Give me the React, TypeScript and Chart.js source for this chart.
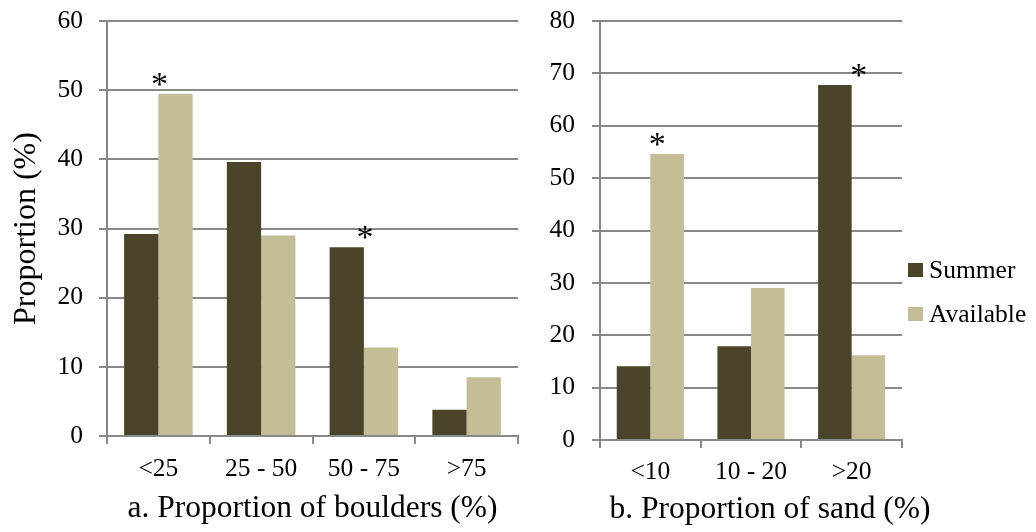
import React, { useEffect, useRef } from "react";
import { Chart, registerables } from "chart.js";

Chart.register(...registerables);

// ---------------- data ----------------
const seriesNames = ["Summer", "Available"];
const seriesColors = ["#4A452A", "#C4BD97"];

const boulderCategories = ["<25", "25 - 50", "50 - 75", ">75"];
const boulderSummer = [29.2, 39.6, 27.3, 3.8];
const boulderAvailable = [49.5, 29.0, 12.8, 8.5];
const boulderStars = [0, 2]; // categories marked with *
const boulderYMax = 60;
const boulderYStep = 10;
const boulderTitle = "a. Proportion of boulders (%)";

const sandCategories = ["<10", "10 - 20", ">20"];
const sandSummer = [14.1, 17.9, 67.8];
const sandAvailable = [54.6, 29.0, 16.2];
const sandStars = [0, 2];
const sandYMax = 80;
const sandYStep = 10;
const sandTitle = "b. Proportion of sand (%)";

const yTitle = "Proportion (%)";

// ---------------- styles ----------------
const FONT = '"Liberation Serif", "Times New Roman", serif';
const GRID = "#898989";
const TICK_SIZE = 25.5;
const TITLE_SIZE = 31.5;

const starPlugin = {
  id: "stars",
  afterDatasetsDraw(chart: any, _a: any, opts: any) {
    const { ctx, scales } = chart;
    const xs = scales.x;
    const ys = scales.y;
    ctx.save();
    ctx.font = `${opts.size}px ${FONT}`;
    ctx.fillStyle = "#000";
    ctx.textAlign = "center";
    ctx.textBaseline = "alphabetic";
    for (const i of opts.indices as number[]) {
      const top = Math.max(...chart.data.datasets.map((d: any) => d.data[i]));
      const cx = xs.getPixelForValue(i) + opts.dx;
      const cy = ys.getPixelForValue(top) - opts.dy;
      ctx.fillText("*", cx, cy + opts.size * 0.47);
    }
    ctx.restore();
  },
};

const sideLegendPlugin = {
  id: "sideLegend",
  afterDraw(chart: any, _a: any, opts: any) {
    if (!opts.show) return;
    const { ctx, chartArea } = chart;
    ctx.save();
    ctx.font = `${TICK_SIZE}px ${FONT}`;
    ctx.textAlign = "left";
    ctx.textBaseline = "alphabetic";
    chart.data.datasets.forEach((ds: any, i: number) => {
      const cy = opts.y + i * opts.gap;
      const bx = chartArea.right + opts.dx;
      ctx.fillStyle = ds.backgroundColor;
      ctx.fillRect(bx, cy - 7, 15, 14);
      ctx.fillStyle = "#000";
      ctx.fillText(ds.label, bx + 21, cy + TICK_SIZE * 0.33);
    });
    ctx.restore();
  },
};

const offsetTitlePlugin = {
  id: "offsetTitle",
  afterDraw(chart: any, _a: any, opts: any) {
    if (!opts.text) return;
    const { ctx, chartArea } = chart;
    ctx.save();
    ctx.font = `${TITLE_SIZE}px ${FONT}`;
    ctx.fillStyle = "#000";
    ctx.textAlign = "center";
    ctx.textBaseline = "middle";
    ctx.fillText(opts.text, (chartArea.left + chartArea.right) / 2 + opts.dx, opts.y);
    ctx.restore();
  },
};

type PanelProps = {
  left: number;
  width: number;
  categories: string[];
  summer: number[];
  available: number[];
  yMax: number;
  yStep: number;
  stars: number[];
  xTitle: string;
  showYTitle: boolean;
  showLegend: boolean;
  yAxisWidth: number;
  xAxisHeight: number;
  padRight: number;
  xTickPad: number;
  yTickPad: number;
  starDx: number;
  titleInScale: boolean;
};

function Panel(p: PanelProps) {
  const ref = useRef<HTMLCanvasElement | null>(null);
  useEffect(() => {
    if (!ref.current) return;
    const chart = new Chart(ref.current, {
      type: "bar",
      data: {
        labels: p.categories,
        datasets: [
          {
            label: seriesNames[0],
            data: p.summer,
            backgroundColor: seriesColors[0],
            borderWidth: 0,
            categoryPercentage: 0.667,
            barPercentage: 1,
          },
          {
            label: seriesNames[1],
            data: p.available,
            backgroundColor: seriesColors[1],
            borderWidth: 0,
            categoryPercentage: 0.667,
            barPercentage: 1,
          },
        ],
      },
      options: {
        animation: false,
        responsive: false,
        devicePixelRatio: 1,
        layout: { padding: { top: 21, right: p.padRight, bottom: 0, left: 0 } },
        plugins: {
          legend: { display: false },
          tooltip: { enabled: false },
          stars: { indices: p.stars, dx: p.starDx, dy: 15, size: 34 },
          sideLegend: { show: p.showLegend, y: 270, gap: 44, dx: 6 },
          offsetTitle: { text: p.titleInScale ? "" : p.xTitle, dx: 19, y: 510 },
        } as any,
        scales: {
          x: {
            offset: true,
            grid: {
              display: true,
              drawOnChartArea: false,
              drawTicks: true,
              tickLength: 8,
              color: GRID,
              lineWidth: 2,
              offset: true,
            },
            border: { display: true, color: GRID, width: 2 },
            ticks: {
              color: "#000",
              font: { family: FONT, size: TICK_SIZE },
              padding: p.xTickPad,
              autoSkip: false,
              maxRotation: 0,
              minRotation: 0,
            },
            title: {
              display: p.titleInScale,
              text: p.xTitle,
              color: "#000",
              font: { family: FONT, size: TITLE_SIZE },
              padding: { top: 0, bottom: 4 },
            },
            afterFit: (s: any) => {
              s.height = p.xAxisHeight;
              s.paddingLeft = 0;
              s.paddingRight = 0;
            },
          },
          y: {
            min: 0,
            max: p.yMax,
            ticks: {
              stepSize: p.yStep,
              color: "#000",
              font: { family: FONT, size: TICK_SIZE },
              padding: p.yTickPad,
            },
            grid: {
              color: GRID,
              lineWidth: 2,
              drawTicks: true,
              tickLength: 8,
            },
            border: { display: true, color: GRID, width: 2 },
            title: {
              display: p.showYTitle,
              text: yTitle,
              color: "#000",
              font: { family: FONT, size: 32 },
              padding: { top: 7, bottom: 0 },
            },
            afterFit: (s: any) => {
              s.width = p.yAxisWidth;
              s.paddingTop = 0;
              s.paddingBottom = 0;
            },
          },
        },
      },
      plugins: [starPlugin, sideLegendPlugin, offsetTitlePlugin] as any,
    });
    return () => chart.destroy();
  }, []);
  return (
    <canvas
      ref={ref}
      width={p.width}
      height={532}
      style={{ position: "absolute", left: p.left, top: 0, width: p.width, height: 532 }}
    />
  );
}

export default function App() {
  return (
    <div
      style={{
        position: "absolute",
        left: 0,
        top: 0,
        width: 1036,
        height: 532,
        background: "#fff",
        overflow: "hidden",
      }}
    >
      <Panel
        left={0}
        width={525}
        categories={boulderCategories}
        summer={boulderSummer}
        available={boulderAvailable}
        yMax={boulderYMax}
        yStep={boulderYStep}
        stars={boulderStars}
        xTitle={boulderTitle}
        showYTitle={true}
        showLegend={false}
        yAxisWidth={107}
        xAxisHeight={96}
        padRight={7}
        xTickPad={10}
        yTickPad={16}
        starDx={1}
        titleInScale={true}
      />
      <Panel
        left={525}
        width={511}
        categories={sandCategories}
        summer={sandSummer}
        available={sandAvailable}
        yMax={sandYMax}
        yStep={sandYStep}
        stars={sandStars}
        xTitle={sandTitle}
        showYTitle={false}
        showLegend={true}
        yAxisWidth={75}
        xAxisHeight={92}
        padRight={134}
        xTickPad={9}
        yTickPad={17}
        starDx={7}
        titleInScale={false}
      />
    </div>
  );
}
